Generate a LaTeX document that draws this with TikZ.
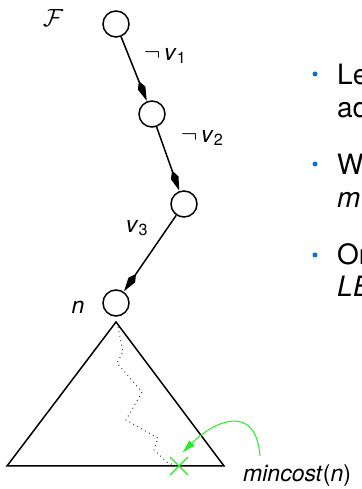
\documentclass[tikz,border=0pt]{standalone}
\usepackage{fontspec}
\setmainfont{TeX Gyre Heros}
\usetikzlibrary{arrows.meta}

\definecolor{bulletblue}{RGB}{16,112,200}
\definecolor{pathgreen}{RGB}{40,235,40}

\begin{document}
\begin{tikzpicture}[
  x=1pt, y=1pt,
  every node/.style={inner sep=0pt, font=\fontsize{23}{27}\selectfont},
  state/.style={draw, line width=1.5pt, circle, minimum size=26pt, fill=white},
  trans/.style={line width=1.5pt, -{Stealth[length=14pt, width=7pt, inset=-8pt]}},
  bulletdot/.style={circle, fill=bulletblue, minimum size=5pt},
  item/.style={anchor=base west, font=\fontsize{28}{33}\selectfont},
  hint/.style={draw=pathgreen, line width=1pt, -{Latex[length=14pt, width=8pt]}},
]
\useasboundingbox (0,0) rectangle (361,489);

%% ── Path of the search tree ───────────────────────────────────────────────
\node[state] (root) at (116,465) {};
\node[state] (s1)   at (152,375) {};
\node[state] (s2)   at (184,285) {};
\node[state] (n)    at (116,186) {};

\draw[trans] (root) -- (s1);
\draw[trans] (s1) -- (s2);
\draw[trans] (s2) -- (n);

%% labels
\node (lblF)  at (53,471)  {$\mathcal{F}$};
\node (lblv1) at (165,433) {$\neg$\,\textit{v}\textsubscript{1}};
\node (lblv2) at (202,351) {$\neg$\,\textit{v}\textsubscript{2}};
\node (lblv3) at (137,261) {\textit{v}\textsubscript{3}};
\node (lbln)  at (78,182)  {\textit{n}};

%% ── Subtree below n ───────────────────────────────────────────────────────
\coordinate (apex) at (116,167);
\coordinate (bl)   at (7,23);
\coordinate (br)   at (224,23);
\draw[line width=1.5pt, line join=miter] (apex) -- (bl) -- (br) -- cycle;

%% cheapest branch
\draw[line width=1pt, dash pattern=on 0.9pt off 3.6pt, black!80]
  (118,162) -- (123,137) -- (117,126) -- (142,97) -- (126,69)
  -- (158,51) -- (154,39) -- (168,26) -- (177,23);

%% cheapest leaf
\coordinate (leaf) at (179,23);
\draw[pathgreen, line width=1.4pt]
  (leaf) +(-9,-9) -- +(9,9)
  (leaf) +(-9,9) -- +(9,-9);

\node[anchor=base west] (cost) at (243,7) {\textit{mincost}(\textit{n})};
\coordinate (costtop) at (260,33);
\coordinate (leaftip) at (182,36);
\draw[hint] (costtop) .. controls (256,86) and (215,69) .. (leaftip);

%% ── Bullet list (cut at the right edge) ───────────────────────────────────
\node[bulletdot] (b1) at (315,415) {};
\node[item] (t1a) at (337,404) {Le};
\node[item] (t1b) at (337,371) {ad};

\node[bulletdot] (b2) at (315,325) {};
\node[item] (t2a) at (337,314) {W};
\node[item] (t2b) at (337,281) {\textit{m}};

\node[bulletdot] (b3) at (315,234) {};
\node[item] (t3a) at (337,224) {Or};
\node[item] (t3b) at (337,192) {\textit{LE}};
\end{tikzpicture}
\end{document}
